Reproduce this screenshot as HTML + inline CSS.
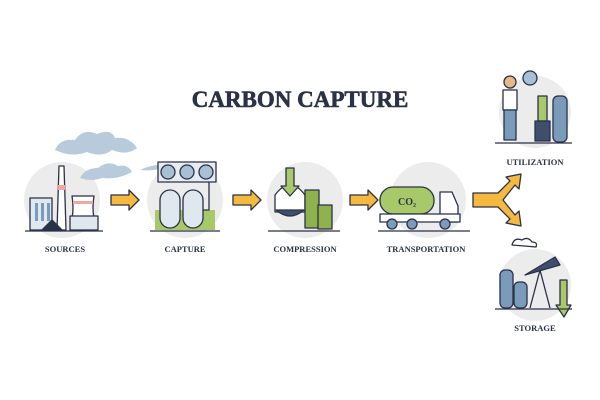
<!DOCTYPE html>
<html><head><meta charset="utf-8"><style>
html,body{margin:0;padding:0;background:#fff;width:600px;height:400px;overflow:hidden}
text{font-family:"Liberation Serif",serif;font-weight:bold;fill:#2b3147}
</style></head><body>
<svg width="600" height="400" viewBox="0 0 600 400" xmlns="http://www.w3.org/2000/svg">
<g stroke="none" fill="#ececec">
<circle cx="62" cy="200" r="38"/><circle cx="185" cy="200" r="38"/><circle cx="305" cy="200" r="38"/>
<circle cx="428" cy="200" r="38"/><circle cx="535" cy="112" r="36"/><circle cx="535" cy="285" r="36"/>
</g>
<text x="300" y="107" font-size="23" text-anchor="middle" stroke="#2b3147" stroke-width="0.6">CARBON CAPTURE</text>
<g font-size="8.5" text-anchor="middle">
<text x="65" y="252">SOURCES</text>
<text x="185" y="252">CAPTURE</text>
<text x="305" y="252">COMPRESSION</text>
<text x="426" y="252">TRANSPORTATION</text>
<text x="535" y="165">UTILIZATION</text>
<text x="535" y="331">STORAGE</text>
</g>
<g stroke="#2b3147" stroke-width="1.3" stroke-linejoin="round">
<!-- smoke -->
<path d="M55 150 q5-12 20-10 q8-12 22-6 q14-6 18 4 q14-2 22 10 q-10 8-25 2 q-10 8-25 2 q-15 6-32-2z" fill="#b8cbdc" stroke="none"/>
<path d="M80 178 q5-10 18-10 q10-8 20 -2 q10 -2 14 6 q-15 8-30 6 q-10 4-22 0z" fill="#b8cbdc" stroke="none"/>
<path d="M140 170 q12-6 30-6 q-12 8-30 6z" fill="#b8cbdc" stroke="none"/>
<!-- sources -->
<rect x="30" y="198" width="22" height="32" fill="#dfe7ef"/>
<rect x="35" y="203" width="3" height="18" fill="#7a9cba" stroke="none"/><rect x="41" y="203" width="3" height="18" fill="#7a9cba" stroke="none"/><rect x="47" y="203" width="3" height="18" fill="#7a9cba" stroke="none"/>
<path d="M57 230 L59 166 L64 166 L66 230z" fill="#fff"/>
<rect x="58" y="185" width="7" height="5" fill="#f4a5a0" stroke="none"/>
<path d="M72 218 q2-10 0-22 l22 0 q-2 12 0 22z" fill="#fff"/>
<rect x="73" y="201" width="20" height="3" fill="#f4a5a0" stroke="none"/>
<rect x="70" y="216" width="28" height="14" fill="#dfe7ef"/>
<path d="M42 230 l10-10 l10 10z" fill="#2b3147"/>
<line x1="25" y1="231" x2="103" y2="231"/>
<!-- arrows -->
<path d="M111 195 h18 v-5 l10 10 l-10 10 v-5 h-18z" fill="#f5b940"/>
<path d="M233 195 h18 v-5 l10 10 l-10 10 v-5 h-18z" fill="#f5b940"/>
<path d="M350 195 h18 v-5 l10 10 l-10 10 v-5 h-18z" fill="#f5b940"/>
<path d="M473 193 h25 l12 -12 l-4 -4 l15 -3 l-2 15 l-4 -4 l-12 15 l12 15 l4 -4 l2 15 l-15 -3 l4 -4 l-12 -12 h-25z" fill="#f5b940"/>
<!-- capture -->
<rect x="158" y="162" width="58" height="20" fill="#e6ecf2"/>
<circle cx="168" cy="172" r="7" fill="#a9bfd3"/><circle cx="187" cy="172" r="7" fill="#a9bfd3"/><circle cx="206" cy="172" r="7" fill="#a9bfd3"/>
<rect x="155" y="210" width="60" height="20" fill="#a8c96a" stroke="none"/>
<rect x="160" y="190" width="20" height="38" rx="10" fill="#dfe7ef"/>
<rect x="183" y="190" width="20" height="38" rx="10" fill="#dfe7ef"/>
<path d="M203 210 h6 v-28" fill="none"/>
<line x1="150" y1="231" x2="220" y2="231"/>
<!-- compression -->
<path d="M275 195 q15-20 30 0 v17 h-30z" fill="#fff"/>
<path d="M276 210 q14 12 28 0z" fill="#3e4f6e"/>
<path d="M286 168 h8 v18 h5 l-9 10 l-9-10 h5z" fill="#a8c96a"/>
<rect x="305" y="190" width="14" height="38" fill="#8fb24e"/>
<rect x="318" y="205" width="14" height="24" fill="#8fb24e"/>
<line x1="268" y1="231" x2="340" y2="231"/>
<!-- truck -->
<rect x="380" y="187" width="54" height="27" rx="13" fill="#a8c96a"/>
<text x="407" y="205" font-size="10" text-anchor="middle" stroke="none">CO₂</text>
<path d="M440 192 h12 l6 14 v16 h-18z" fill="#fff"/>
<rect x="380" y="214" width="80" height="8" fill="#fff"/>
<circle cx="392" cy="224" r="5" fill="#7a9cba"/><circle cx="412" cy="224" r="5" fill="#7a9cba"/><circle cx="445" cy="224" r="5" fill="#7a9cba"/>
<line x1="378" y1="231" x2="470" y2="231"/>
<!-- utilization -->
<circle cx="510" cy="82" r="6" fill="#e6b98a"/>
<rect x="503" y="90" width="14" height="20" fill="#fff"/>
<rect x="504" y="110" width="12" height="30" fill="#7a9cba"/>
<circle cx="530" cy="78" r="7" fill="#a9bfd3"/>
<rect x="538" y="96" width="9" height="25" fill="#a8c96a"/>
<rect x="535" y="121" width="15" height="20" fill="#3e4f6e"/>
<rect x="553" y="96" width="14" height="46" rx="5" fill="#7a9cba"/>
<line x1="495" y1="143" x2="572" y2="143"/>
<!-- storage -->
<path d="M512 245 q2-8 10-5 q6-4 10 2 q6 0 4 5z" fill="#fff"/>
<rect x="500" y="270" width="13" height="38" rx="5" fill="#7a9cba"/>
<rect x="514" y="282" width="13" height="26" rx="5" fill="#7a9cba"/>
<path d="M525 275 l30-18 l5 8 z" fill="#3e4f6e"/>
<path d="M530 308 l10-38 l10 38" fill="none"/>
<path d="M560 280 h7 v25 h4 l-7 12 l-8 -12 h4z" fill="#a8c96a"/>
<line x1="495" y1="309" x2="572" y2="309"/>
</g>
</svg>
</body></html>
